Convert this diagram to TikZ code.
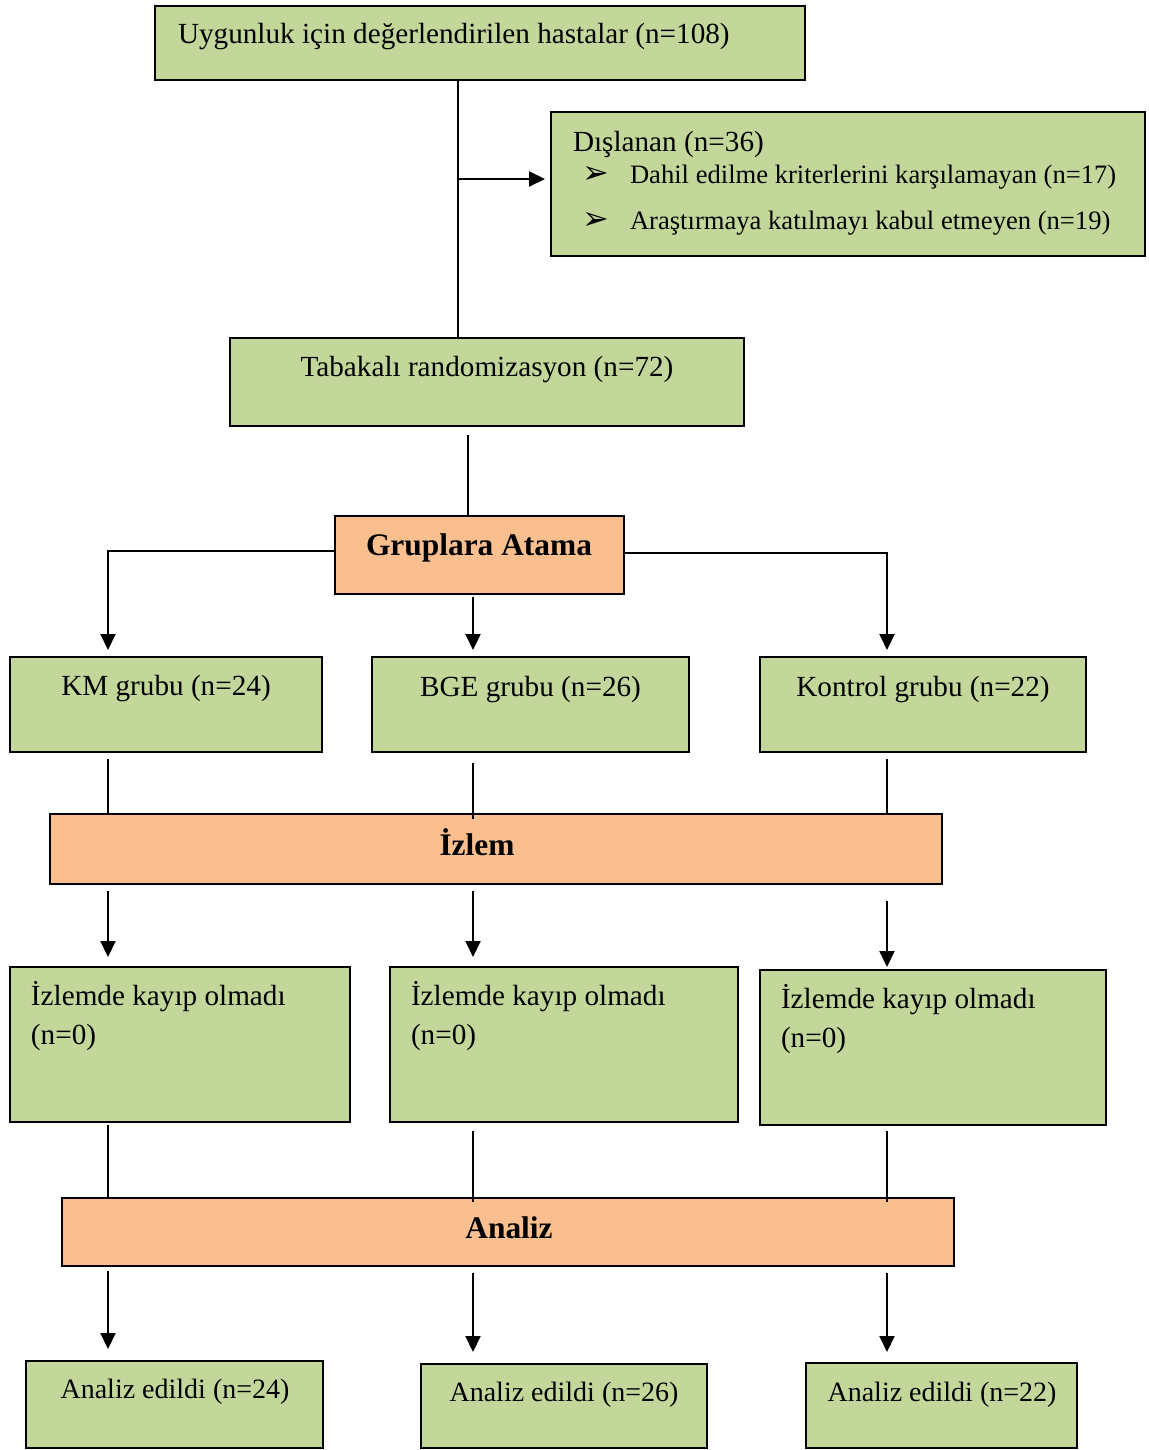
\documentclass[tikz,border=0pt]{standalone}
\usepackage{fontspec}
\setmainfont{Liberation Serif}
\newfontfamily\symfont{DejaVu Sans}
\usetikzlibrary{positioning, calc, arrows.meta}

\begin{document}
\begin{tikzpicture}[
  x=0.5pt, y=-0.5pt,
  font=\fontsize{14.6}{17.5}\selectfont,
  >={Triangle[length=8pt,width=7.5pt]},
  line width=1pt,
  greenbox/.style={draw=black, line width=1pt, fill=cGreen, inner sep=0pt},
  orangebox/.style={draw=black, line width=1pt, fill=cOrange, inner sep=0pt},
  txt/.style={anchor=base, inner sep=0pt},
  boldtxt/.style={anchor=base, inner sep=0pt, font=\fontsize{15.7}{19}\selectfont\bfseries},
  smalltxt/.style={anchor=base west, inner sep=0pt, font=\fontsize{13.3}{16}\selectfont},
  bullet/.style={anchor=base west, inner sep=0pt, font=\fontsize{16}{18}\symfont},
  donetxt/.style={anchor=base, inner sep=0pt, font=\fontsize{14}{17}\selectfont},
]
\definecolor{cGreen}{HTML}{C4D79B}   % light olive boxes
\definecolor{cOrange}{HTML}{FABF8F}  % stage bars

\useasboundingbox (0,0) rectangle (1148,1450);

% ---------- screening ----------
\node[greenbox, minimum width=325pt, minimum height=37pt] (screen) at (480,43) {};
\node[txt, anchor=base west] (screenTxt) at (177,44)
  {Uygunluk için değerlendirilen hastalar (n=108)};

% ---------- excluded ----------
\node[greenbox, minimum width=297pt, minimum height=72pt] (excl) at (848,184) {};
\node[txt, anchor=base west] (exclTxt) at (572,151) {Dışlanan (n=36)};
\node[bullet] (bulA) at (581,183) {➢};
\node[smalltxt] (exclA) at (629,183) {Dahil edilme kriterlerini karşılamayan (n=17)};
\node[bullet] (bulB) at (581,229) {➢};
\node[smalltxt] (exclB) at (629,229) {Araştırmaya katılmayı kabul etmeyen (n=19)};

% ---------- randomisation ----------
\node[greenbox, minimum width=257pt, minimum height=44pt] (strat) at (487,382) {};
\node[txt] (stratTxt) at (487,376) {Tabakalı randomizasyon (n=72)};

\node[orangebox, minimum width=144.5pt, minimum height=39pt] (assign) at (479.5,555) {};
\node[boldtxt] (assignTxt) at (479,555) {Gruplara Atama};

% ---------- groups ----------
\node[greenbox, minimum width=156pt, minimum height=47.5pt] (km) at (166,704.5) {};
\node[txt] (kmTxt) at (166,695) {KM grubu (n=24)};
\node[greenbox, minimum width=158.5pt, minimum height=47.5pt] (bge) at (530.5,704.5) {};
\node[txt] (bgeTxt) at (530.5,696) {BGE grubu (n=26)};
\node[greenbox, minimum width=163pt, minimum height=47.5pt] (ctrl) at (923,704.5) {};
\node[txt] (ctrlTxt) at (923,696) {Kontrol grubu (n=22)};

% ---------- follow-up ----------
\node[orangebox, minimum width=446pt, minimum height=35pt] (follow) at (496,849) {};
\node[boldtxt] (followTxt) at (477,855) {İzlem};

\node[greenbox, minimum width=170pt, minimum height=77.5pt] (lossL) at (180,1044.5) {};
\node[txt, anchor=base west] (lossLa) at (30,1005) {İzlemde kayıp olmadı};
\node[txt, anchor=base west] (lossLb) at (30,1044) {(n=0)};
\node[greenbox, minimum width=174pt, minimum height=77.5pt] (lossM) at (564,1044.5) {};
\node[txt, anchor=base west] (lossMa) at (410,1005) {İzlemde kayıp olmadı};
\node[txt, anchor=base west] (lossMb) at (410,1044) {(n=0)};
\node[greenbox, minimum width=173pt, minimum height=77.5pt] (lossR) at (933,1047.5) {};
\node[txt, anchor=base west] (lossRa) at (780,1008) {İzlemde kayıp olmadı};
\node[txt, anchor=base west] (lossRb) at (780,1047) {(n=0)};

% ---------- analysis ----------
\node[orangebox, minimum width=446pt, minimum height=34pt] (anal) at (508,1232) {};
\node[boldtxt] (analTxt) at (509,1238) {Analiz};

\node[greenbox, minimum width=148.5pt, minimum height=43.5pt] (doneL) at (174.5,1404.5) {};
\node[donetxt] (doneLTxt) at (175,1398) {Analiz edildi (n=24)};
\node[greenbox, minimum width=143pt, minimum height=42pt] (doneM) at (564,1406) {};
\node[donetxt] (doneMTxt) at (564,1401) {Analiz edildi (n=26)};
\node[greenbox, minimum width=135.5pt, minimum height=42.5pt] (doneR) at (941.5,1405.5) {};
\node[donetxt] (doneRTxt) at (942,1401) {Analiz edildi (n=22)};

% ---------- connectors ----------
\coordinate (trunk) at (458,0);
\coordinate (branch) at (458,179);
\coordinate (colT) at (468,0);
\coordinate (colL) at (108,0);
\coordinate (colM) at (473,0);
\coordinate (colR) at (887,0);

\draw (screen.south -| trunk) -- (strat.north -| trunk);
\draw[->, shorten >=2.5pt] (branch) -- (excl.west |- branch);
\draw[shorten <=4pt] (strat.south -| colT) -- (assign.north -| colT);

\draw[->, shorten >=3pt] ([yshift=2pt]assign.west) -| (km.north -| colL);
\draw[->, shorten >=3pt] ([yshift=1pt]assign.east) -| (ctrl.north -| colR);
\draw[->, shorten <=1pt, shorten >=3pt] (assign.south -| colM) -- (bge.north -| colM);

\draw[shorten <=3pt] (km.south -| colL) -- (follow.north -| colL);
\draw[shorten <=5pt, shorten >=-3pt] (bge.south -| colM) -- (follow.north -| colM);
\draw[shorten <=3pt] (ctrl.south -| colR) -- (follow.north -| colR);

\draw[->, shorten <=3pt, shorten >=4.5pt] (follow.south -| colL) -- (lossL.north -| colL);
\draw[->, shorten <=3pt, shorten >=4.5pt] (follow.south -| colM) -- (lossM.north -| colM);
\draw[->, shorten <=8pt, shorten >=1pt] (follow.south -| colR) -- (lossR.north -| colR);

\draw[shorten <=1pt] (lossL.south -| colL) -- (anal.north -| colL);
\draw[shorten <=4pt, shorten >=-2.5pt] (lossM.south -| colM) -- (anal.north -| colM);
\draw[shorten <=2.5pt, shorten >=-2.5pt] (lossR.south -| colR) -- (anal.north -| colR);

\draw[->, shorten <=2pt, shorten >=5.5pt] (anal.south -| colL) -- (doneL.north -| colL);
\draw[->, shorten <=3pt, shorten >=5.5pt] (anal.south -| colM) -- (doneM.north -| colM);
\draw[->, shorten <=3pt, shorten >=5pt] (anal.south -| colR) -- (doneR.north -| colR);

\end{tikzpicture}
\end{document}
